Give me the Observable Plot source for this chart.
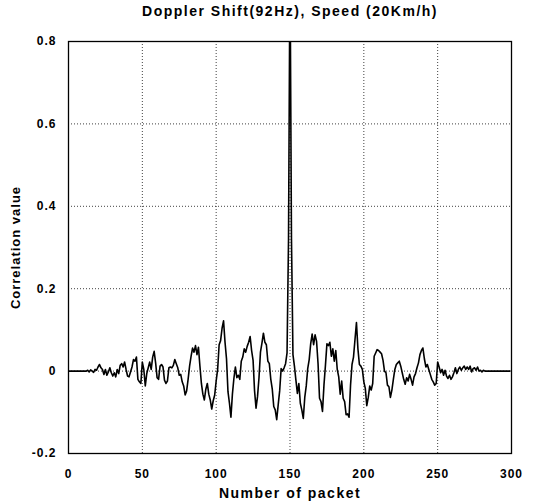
<!DOCTYPE html>
<html>
<head>
<meta charset="utf-8">
<script src="https://cdn.jsdelivr.net/npm/d3@7"></script>
<script src="https://cdn.jsdelivr.net/npm/@observablehq/plot@0.6"></script>
<style>
  html, body { margin: 0; padding: 0; background: #fff; }
  #title {
    width: 543px; height: 30px; box-sizing: border-box; padding-top: 3px; padding-left: 37px;
    text-align: center; line-height: 28px;
    font: bold 14px "Liberation Sans", Arial, sans-serif; letter-spacing: 1.5px; color: #000;
  }
  #chart svg text { letter-spacing: 1px; }
  #chart svg .axlabel text { letter-spacing: 1.5px; }
</style>
</head>
<body>
<div id="title"></div>
<div id="chart"></div>
<script>
const titleText = "Doppler Shift(92Hz), Speed (20Km/h)";
const xLabel = "Number of packet";
const yLabel = "Correlation value";
const xTicks = [0, 50, 100, 150, 200, 250, 300];
const yTicks = [-0.2, 0, 0.2, 0.4, 0.6, 0.8];

// correlation value per packet index (0..299)
const correlation = [
  0, 0, 0, 0, 0, 0, 0, 0, 0, 0,
  0, 0, 0, 0.002, -0.002, 0.003, 0, -0.003, 0.004, 0.002,
  0.01, 0.016, 0.008, 0.004, -0.008, 0.004, -0.01, -0.002, 0.008, -0.004,
  -0.012, -0.004, -0.014, 0.004, -0.006, 0.014, 0.018, 0.01, 0.022, 0.004,
  -0.012, -0.014, -0.002, 0.01, 0.028, 0.024, 0.034, -0.02, -0.026, -0.03,
  0.022, 0.004, -0.036, -0.006, 0.008, 0.022, 0.004, 0.034, 0.048, 0.02,
  -0.016, -0.02, 0.012, 0.016, 0.01, -0.022, -0.03, -0.024, 0.008, 0.01,
  0.008, 0.014, 0.028, 0.018, 0.008, -0.01, -0.008, -0.026, -0.036, -0.058,
  -0.048, -0.02, 0.012, 0.036, 0.056, 0.046, 0.062, 0.04, 0.058, 0.012,
  -0.03, -0.056, -0.07, -0.044, -0.03, -0.056, -0.07, -0.092, -0.072, -0.058,
  -0.024, 0.004, 0.064, 0.074, 0.104, 0.122, 0.07, 0.03, -0.05, -0.078,
  -0.112, -0.056, -0.018, 0.01, -0.016, -0.01, -0.02, 0.024, 0.034, 0.054,
  0.046, 0.06, 0.07, 0.084, 0.05, 0.026, -0.048, -0.09, -0.062, -0.016,
  0.046, 0.068, 0.092, 0.07, 0.064, 0.024, 0.018, -0.02, -0.044, -0.086,
  -0.094, -0.118, -0.082, -0.048, 0.006, 0.0, 0.008, 0.018, 0.044, 0.32,
  1, 0.32, 0.04, 0.012, -0.022, -0.054, -0.03, -0.078, -0.094, -0.115,
  -0.064, -0.036, 0.006, 0.028, 0.066, 0.09, 0.064, 0.088, 0.072, 0.018,
  -0.066, -0.074, -0.098, -0.034, 0.014, 0.066, 0.062, 0.07, 0.036, 0.054,
  0.024, 0.05, 0.004, -0.014, -0.056, -0.024, -0.066, -0.074, -0.106, -0.104,
  -0.112, -0.034, 0.016, 0.034, 0.076, 0.118, 0.054, 0.016, 0.012, 0.004,
  -0.026, -0.042, -0.084, -0.064, -0.036, -0.046, -0.03, 0.036, 0.044, 0.052,
  0.05, 0.046, 0.042, 0.026, 0.0, -0.004, -0.034, -0.038, -0.064, -0.046,
  -0.02, 0.004, 0.016, 0.02, 0.024, 0.012, -0.004, -0.02, -0.032, -0.016,
  -0.024, -0.008, -0.02, -0.034, -0.014, -0.006, 0.008, 0.02, 0.04, 0.05,
  0.056, 0.03, 0.01, 0.016, 0.004, -0.008, -0.02, -0.026, -0.034, -0.03,
  0.022, 0.01, -0.004, 0.004, -0.01, 0.002, -0.012, -0.018, -0.01, -0.02,
  -0.014, -0.004, 0.008, -0.006, 0.004, 0.01, 0.002, 0.008, 0.012, 0.004,
  0.01, 0.004, 0.012, -0.002, 0.006, 0.008, 0.002, 0.01, 0.0, 0.002,
  -0.002, 0.002, 0, 0, 0, 0, 0, 0, 0, 0,
  0, 0, 0, 0, 0, 0, 0, 0, 0, 0
];

document.getElementById("title").textContent = titleText;

const font = "'Liberation Sans', Arial, sans-serif";
const gridStyle = {stroke: "#000", strokeOpacity: 0.75, strokeWidth: 1, strokeDasharray: "1,2"};

const chart = Plot.plot({
  width: 543,
  height: 474,
  marginLeft: 68,
  marginRight: 32,
  marginTop: 11,
  marginBottom: 51,
  style: {fontFamily: font, fontSize: "12px", fontWeight: "bold", color: "#000", background: "#fff"},
  x: {domain: [0, 300], ticks: xTicks, label: null},
  y: {domain: [-0.2, 0.8], ticks: yTicks, label: null},
  marks: [
    Plot.gridX(xTicks, gridStyle),
    Plot.gridY(yTicks, gridStyle),
    Plot.line(correlation, {x: (d, i) => i, y: d => d, stroke: "#000", strokeWidth: 1.6, clip: true}),
    Plot.frame({stroke: "#000", strokeWidth: 1.3}),
    Plot.axisX(xTicks, {tickSize: 0, tickPadding: 16, tickFormat: d => String(d), label: null, fontWeight: "bold"}),
    Plot.axisY(yTicks, {tickSize: 0, tickPadding: 12, tickFormat: d => String(d), label: null, fontWeight: "bold"}),
    Plot.text([xLabel], {frameAnchor: "bottom", dy: 40, lineAnchor: "middle", textAnchor: "middle", fontSize: 14, fontWeight: "bold", fill: "#000", className: "axlabel"}),
    Plot.text([yLabel], {frameAnchor: "left", dx: -53, rotate: -90, lineAnchor: "middle", textAnchor: "middle", fontSize: 13, fontWeight: "bold", fill: "#000"})
  ]
});
document.getElementById("chart").appendChild(chart);
</script>
</body>
</html>
